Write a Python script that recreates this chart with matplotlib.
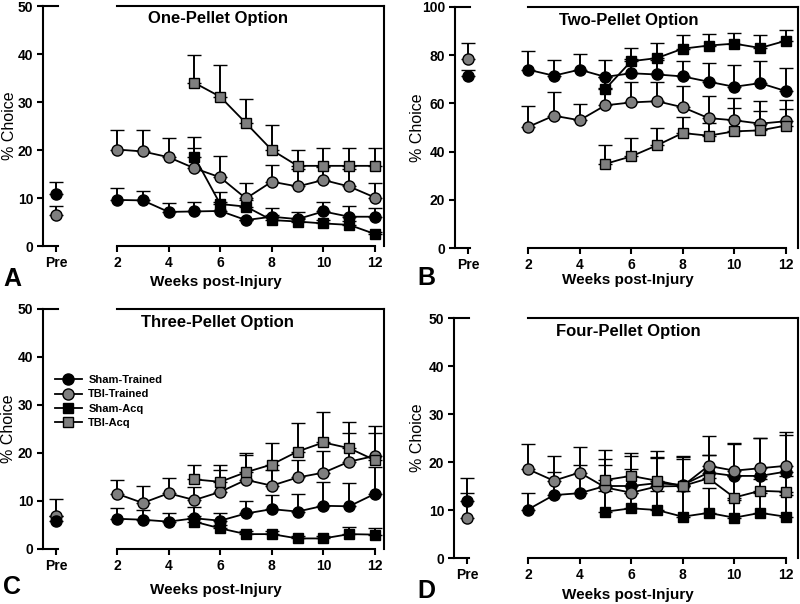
import matplotlib
matplotlib.use('Agg')
import matplotlib.pyplot as plt
from matplotlib.lines import Line2D
import numpy as np

plt.rcParams['font.family'] = ['Liberation Sans', 'DejaVu Sans']

W, H = 800, 604

weeks_tr = [2, 3, 4, 5, 6, 7, 8, 9, 10, 11, 12]
weeks_acq = [5, 6, 7, 8, 9, 10, 11, 12]
labels = ['Sham-Trained', 'TBI-Trained', 'Sham-Acq', 'TBI-Acq']

# ---- One-pellet (A): means and top of error bars
one_pre_sham, one_pre_sham_hi = 10.9, 13.3
one_pre_tbi, one_pre_tbi_hi = 6.5, 8.4
one_sham_tr = [9.6, 9.5, 7.1, 7.2, 7.3, 5.4, 6.1, 5.6, 7.2, 6.1, 6.1]
one_sham_tr_hi = [12.0, 11.5, 8.9, 9.1, 9.1, 5.4, 7.9, 7.1, 9.1, 8.4, 7.9]
one_tbi_tr = [20.1, 19.7, 18.5, 16.2, 14.3, 9.9, 13.4, 12.4, 13.75, 12.4, 10.1]
one_tbi_tr_hi = [24.2, 24.2, 22.4, 22.8, 18.8, 13.2, 16.9, 16.0, 16.5, 16.0, 13.2]
one_sham_acq = [18.6, 8.75, 8.2, 5.4, 5.1, 4.7, 4.4, 2.5]
one_sham_acq_hi = [20.4, 11.3, 9.5, 6.5, 5.8, 5.5, 5.2, 3.0]
one_tbi_acq = [34.0, 31.1, 25.6, 20.0, 16.7, 16.7, 16.7, 16.7]
one_tbi_acq_hi = [39.8, 37.7, 30.6, 25.2, 20.0, 20.4, 20.4, 20.5]

# ---- Two-pellet (B)
two_pre_sham, two_pre_sham_hi = 71.5, 74.0
two_pre_tbi, two_pre_tbi_hi = 78.3, 85.1
two_sham_tr = [74.0, 71.5, 74.0, 71.0, 72.5, 72.0, 71.2, 69.0, 66.9, 68.4, 65.1]
two_sham_tr_hi = [81.6, 78.1, 80.5, 78.1, 78.5, 78.0, 77.7, 76.8, 76.1, 77.7, 74.7]
two_tbi_tr = [50.2, 54.9, 53.0, 59.2, 60.4, 60.9, 58.4, 53.9, 53.0, 51.6, 52.6]
two_tbi_tr_hi = [59.1, 64.7, 59.9, 66.5, 68.7, 69.0, 67.1, 62.9, 62.2, 60.9, 61.5]
two_sham_acq = [66.0, 77.5, 78.8, 82.7, 84.0, 84.8, 83.0, 86.0]
two_sham_acq_hi = [71.0, 83.0, 85.0, 88.5, 88.8, 89.2, 88.5, 90.6]
two_tbi_acq = [34.9, 38.0, 42.6, 47.7, 46.6, 48.4, 48.8, 50.8]
two_tbi_acq_hi = [42.6, 45.6, 49.8, 54.4, 52.0, 58.1, 56.7, 57.8]

# ---- Three-pellet (C)
three_pre_sham, three_pre_sham_hi = 5.8, 6.8
three_pre_tbi, three_pre_tbi_hi = 6.9, 10.4
three_sham_tr = [6.3, 6.1, 5.7, 6.4, 5.9, 7.4, 8.3, 7.8, 9.0, 8.9, 11.5]
three_sham_tr_hi = [8.5, 8.1, 7.4, 8.8, 7.6, 10.1, 11.25, 11.5, 13.9, 13.7, 17.0]
three_tbi_tr = [11.5, 9.6, 11.6, 10.2, 11.9, 14.4, 13.2, 14.9, 15.9, 18.2, 19.4]
three_tbi_tr_hi = [14.4, 13.1, 14.8, 13.0, 16.5, 19.6, 16.5, 18.5, 20.5, 24.2, 25.6]
three_sham_acq = [5.7, 4.3, 3.1, 3.1, 2.2, 2.2, 3.1, 3.0]
three_sham_acq_hi = [6.8, 5.0, 3.8, 3.8, 2.8, 2.8, 4.6, 4.3]
three_tbi_acq = [14.5, 14.0, 16.0, 17.6, 20.3, 22.2, 21.0, 18.5]
three_tbi_acq_hi = [17.6, 17.6, 20.1, 22.1, 26.3, 28.5, 26.5, 24.2]

# ---- Four-pellet (D)
four_pre_sham, four_pre_sham_hi = 11.9, 16.7
four_pre_tbi, four_pre_tbi_hi = 8.4, 13.6
four_sham_tr = [10.1, 13.1, 13.5, 15.0, 15.0, 15.6, 15.2, 17.8, 17.1, 17.1, 18.0]
four_sham_tr_hi = [13.6, 18.0, 19.4, 19.4, 18.5, 20.8, 21.0, 21.5, 23.8, 24.9, 25.6]
four_tbi_tr = [18.5, 16.1, 17.8, 14.7, 13.6, 14.9, 15.0, 19.2, 18.2, 18.7, 19.2]
four_tbi_tr_hi = [23.7, 21.25, 23.2, 20.6, 21.3, 21.0, 20.6, 25.4, 24.0, 25.1, 26.2]
four_sham_acq = [9.65, 10.35, 10.0, 8.6, 9.4, 8.4, 9.4, 8.6]
four_sham_acq_hi = [14.0, 13.5, 14.0, 14.0, 14.5, 12.0, 13.5, 13.2]
four_tbi_acq = [16.25, 17.1, 16.1, 15.0, 16.6, 12.6, 14.0, 13.8]
four_tbi_acq_hi = [22.5, 21.8, 22.3, 21.25, 21.5, 17.0, 16.5, 17.0]

GRAY = '#7f7f7f'
styles = [dict(marker='o', mfc='black', ms=8),
          dict(marker='o', mfc=GRAY, ms=8),
          dict(marker='s', mfc='black', ms=7),
          dict(marker='s', mfc=GRAY, ms=7)]

fig = plt.figure(figsize=(W / 100, H / 100), dpi=100)


def px_axes(l, t, r, b):
    return fig.add_axes([l / W, 1 - b / H, (r - l) / W, (b - t) / H])


def errline(ax, x, y, hi, st):
    y = np.asarray(y, float)
    hi = np.asarray(hi, float)
    ax.errorbar(x, y, yerr=[np.zeros_like(y), hi - y], color='black',
                ecolor='black', elinewidth=1.4, capsize=4.8, capthick=1.4,
                lw=1.3, mec='black', mew=1.0, clip_on=False, **st)


def panel(l, t, rp, lm, rm, b, ymax, xmax, pre, series, title, ty, letter,
          ylab_x, xlab_y, let_y):
    # little "Pre" axis
    ap = px_axes(l, t, rp, b)
    ap.set_xlim(0, 1.15)
    ap.set_ylim(0, ymax)
    ap.spines['right'].set_visible(False)
    for s in ap.spines.values():
        s.set_linewidth(1.5)
    ap.set_xticks([1])
    ap.set_xticklabels(['Pre'])
    ap.set_yticks(np.linspace(0, ymax, 6))
    ap.tick_params(direction='out', length=4, width=1.5, labelsize=10,
                   pad=3)
    for lab in ap.get_xticklabels() + ap.get_yticklabels():
        lab.set_fontweight('bold')
    (s_m, s_hi), (t_m, t_hi) = pre
    errline(ap, [1], [t_m], [t_hi], styles[1])
    errline(ap, [1], [s_m], [s_hi], styles[0])

    # main axis
    am = px_axes(lm, t, rm, b)
    am.set_xlim(2, xmax)
    am.set_ylim(0, ymax)
    am.spines['left'].set_visible(False)
    for s in am.spines.values():
        s.set_linewidth(1.5)
    am.spines['bottom'].set_bounds(2, 12)
    am.set_yticks([])
    am.set_xticks([2, 4, 6, 8, 10, 12])
    am.tick_params(direction='out', length=4, width=1.5, labelsize=10, pad=3)
    for lab in am.get_xticklabels():
        lab.set_fontweight('bold')
    for (x, y, hi), st in zip(series, styles):
        errline(am, x, y, hi, st)
    am.text(5.9, ty, title, ha='center', va='center', fontsize=12,
            fontweight='bold')

    cx = 216 if lm < 400 else 628
    fig.text(cx / W, 1 - xlab_y / H, 'Weeks post-Injury', ha='center',
             va='center', fontsize=11, fontweight='bold')
    fig.text(ylab_x / W, 1 - ((t + b) / 2) / H, '% Choice', rotation=90,
             ha='center', va='center', fontsize=11.5)
    fig.text((12 if lm < 400 else 426) / W, 1 - let_y / H, letter,
             ha='center', va='center', fontsize=18, fontweight='bold')
    return ap, am


panel(43, 6, 58, 117, 384, 246, 50, 12.35,
      [(one_pre_sham, one_pre_sham_hi), (one_pre_tbi, one_pre_tbi_hi)],
      [(weeks_tr, one_sham_tr, one_sham_tr_hi),
       (weeks_tr, one_tbi_tr, one_tbi_tr_hi),
       (weeks_acq, one_sham_acq, one_sham_acq_hi),
       (weeks_acq, one_tbi_acq, one_tbi_acq_hi)],
      'One-Pellet Option', 47.3, 'A', 10, 282, 279)

panel(455, 7, 470, 528, 798, 248, 100, 12.47,
      [(two_pre_sham, two_pre_sham_hi), (two_pre_tbi, two_pre_tbi_hi)],
      [(weeks_tr, two_sham_tr, two_sham_tr_hi),
       (weeks_tr, two_tbi_tr, two_tbi_tr_hi),
       (weeks_acq, two_sham_acq, two_sham_acq_hi),
       (weeks_acq, two_tbi_acq, two_tbi_acq_hi)],
      'Two-Pellet Option', 94.2, 'B', 418, 280, 278)

panel(43, 309, 58, 117, 384, 549, 50, 12.35,
      [(three_pre_sham, three_pre_sham_hi), (three_pre_tbi, three_pre_tbi_hi)],
      [(weeks_tr, three_sham_tr, three_sham_tr_hi),
       (weeks_tr, three_tbi_tr, three_tbi_tr_hi),
       (weeks_acq, three_sham_acq, three_sham_acq_hi),
       (weeks_acq, three_tbi_acq, three_tbi_acq_hi)],
      'Three-Pellet Option', 47.1, 'C', 9, 590, 587)

panel(454, 318, 469, 528, 798, 558, 50, 12.47,
      [(four_pre_sham, four_pre_sham_hi), (four_pre_tbi, four_pre_tbi_hi)],
      [(weeks_tr, four_sham_tr, four_sham_tr_hi),
       (weeks_tr, four_tbi_tr, four_tbi_tr_hi),
       (weeks_acq, four_sham_acq, four_sham_acq_hi),
       (weeks_acq, four_tbi_acq, four_tbi_acq_hi)],
      'Four-Pellet Option', 47.1, 'D', 418, 595, 591)

handles = [Line2D([], [], color='black', lw=1.3, mec='black', mew=1.0, **st)
           for st in styles]
fig.legend(handles, labels, loc='upper left',
           bbox_to_anchor=(55 / W, 1 - 375 / H), frameon=False,
           prop=dict(size=8, weight='bold'), handlelength=2.4,
           handletextpad=0.6, labelspacing=0.4, borderpad=0, borderaxespad=0)

fig.savefig('out.png', dpi=100)
